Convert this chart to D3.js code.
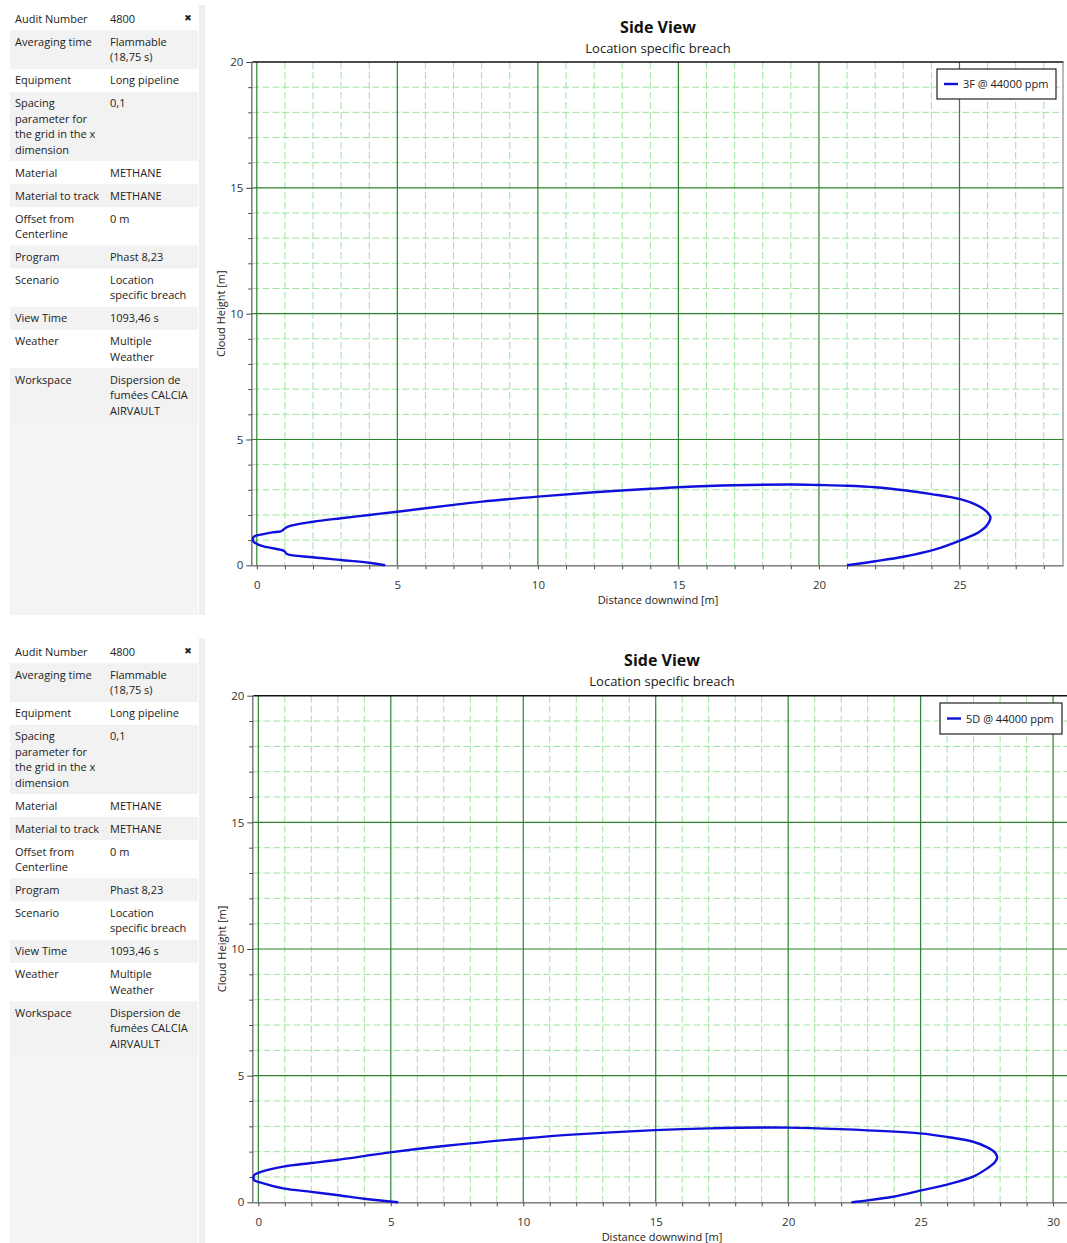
<!DOCTYPE html>
<html>
<head>
<meta charset="utf-8">
<script src="https://cdn.jsdelivr.net/npm/d3@7"></script>
<style>
  html, body { margin: 0; padding: 0; background: #ffffff; }
  svg { display: block; font-family: "Open Sans", "Noto Sans", sans-serif; }
</style>
</head>
<body>
<svg id="chart" width="1067" height="1243"></svg>
<script>
// ---------------- DATA ----------------
const chartTitle = "Side View";
const chartSubtitle = "Location specific breach";
const xAxisLabel = "Distance downwind [m]";
const yAxisLabel = "Cloud Height [m]";

const seriesNames = ["3F @ 44000 ppm", "5D @ 44000 ppm"];

const yTickValues = [0, 5, 10, 15, 20];
const xTickValues3F = [0, 5, 10, 15, 20, 25];
const xTickValues5D = [0, 5, 10, 15, 20, 25, 30];

// Cloud contour, weather 3F (distance [m], height [m])
const cloud3F_x = [4.57, 4.0, 3.0, 2.0, 1.07, 0.98, 0.83, 0.36, 0.05, -0.12, -0.14, -0.1, 0.24, 0.55, 0.85, 0.98, 1.09, 2.0, 3.0, 4.0, 5.0, 7.0, 8.0, 10.0, 12.0, 14.0, 15.0, 17.0, 19.1, 20.0, 21.0, 22.0, 23.1, 24.0, 25.06, 25.6, 25.95, 26.1, 26.0, 25.7, 25.06, 24.08, 23.0, 22.0, 21.0];
const cloud3F_h = [0.0, 0.10, 0.21, 0.32, 0.45, 0.57, 0.62, 0.72, 0.82, 0.95, 1.05, 1.14, 1.24, 1.31, 1.35, 1.44, 1.53, 1.73, 1.87, 2.0, 2.13, 2.4, 2.53, 2.73, 2.9, 3.04, 3.1, 3.18, 3.21, 3.19, 3.16, 3.1, 2.97, 2.83, 2.62, 2.4, 2.15, 1.91, 1.62, 1.32, 1.0, 0.61, 0.34, 0.16, 0.0];

// Cloud contour, weather 5D
const cloud5D_x = [5.28, 4.0, 2.96, 2.0, 0.94, 0.19, -0.16, -0.15, 0.13, 0.94, 2.0, 2.96, 4.97, 7.0, 10.0, 12.0, 14.97, 17.0, 19.98, 21.95, 24.97, 26.0, 26.98, 27.5, 27.8, 27.89, 27.8, 27.5, 26.98, 26.0, 24.97, 23.96, 22.39];
const cloud5D_h = [0.0, 0.14, 0.29, 0.41, 0.55, 0.75, 0.88, 1.08, 1.21, 1.41, 1.55, 1.67, 1.97, 2.22, 2.52, 2.68, 2.85, 2.92, 2.95, 2.89, 2.72, 2.58, 2.39, 2.18, 1.97, 1.78, 1.58, 1.33, 1.01, 0.7, 0.46, 0.22, 0.0];

// Side information table
const infoLabels = [
  ["Audit Number"], ["Averaging time"], ["Equipment"],
  ["Spacing", "parameter for", "the grid in the x", "dimension"],
  ["Material"], ["Material to track"], ["Offset from", "Centerline"],
  ["Program"], ["Scenario"], ["View Time"], ["Weather"], ["Workspace"]
];
const infoValues = [
  ["4800"], ["Flammable", "(18,75 s)"], ["Long pipeline"], ["0,1"],
  ["METHANE"], ["METHANE"], ["0 m"], ["Phast 8,23"],
  ["Location", "specific breach"], ["1093,46 s"], ["Multiple", "Weather"],
  ["Dispersion de", "fumées CALCIA", "AIRVAULT"]
];

// ---------------- LAYOUT ----------------
const panels = [
  { oy: 0, name: seriesNames[0], xs: cloud3F_x, hs: cloud3F_h, xTicks: xTickValues3F,
    xDomain: [-0.16, 28.7], xRange: [252.3, 1063.5], yRange: [565.3, 62],
    titleX: 658, legend: { x: 937, y: 69, w: 119, h: 30 } },
  { oy: 633, name: seriesNames[1], xs: cloud5D_x, hs: cloud5D_h, xTicks: xTickValues5D,
    xDomain: [-0.19, 30.6], xRange: [253.3, 1069], yRange: [1202.3, 695.7],
    titleX: 662, legend: { x: 940, y: 703, w: 122, h: 31 } }
];

const svg = d3.select("#chart");
const fontFam = '"Open Sans", "Noto Sans", sans-serif';
const curveColor = "#1010dc";

panels.forEach((p) => {
  const g = svg.append("g");
  const oy = p.oy;

  // ----- Side panel -----
  g.append("rect").attr("x", 10).attr("y", oy + 7.5).attr("width", 188).attr("height", 607.5).attr("fill", "#f4f4f4");
  g.append("rect").attr("x", 199).attr("y", oy + 5).attr("width", 6).attr("height", 610).attr("fill", "#efefef");
  const lineH = 15.4, pad = 7.6;
  let top = oy + 7.5;
  infoLabels.forEach((lab, i) => {
    const n = Math.max(lab.length, infoValues[i].length);
    const hgt = n * lineH + pad;
    g.append("rect").attr("x", 10).attr("y", top).attr("width", 188).attr("height", hgt)
      .attr("fill", i % 2 === 0 ? "#ffffff" : "#f2f2f2");
    lab.forEach((t, k) => {
      g.append("text").attr("x", 15).attr("y", top + 15.5 + k * lineH).text(t)
        .attr("font-size", 11).attr("fill", "#222");
    });
    infoValues[i].forEach((t, k) => {
      g.append("text").attr("x", 110).attr("y", top + 15.5 + k * lineH).text(t)
        .attr("font-size", 11).attr("fill", "#222");
    });
    top += hgt;
  });
  g.append("text").attr("x", 188).attr("y", oy + 21).attr("text-anchor", "middle")
    .attr("font-size", 9).attr("fill", "#222").attr("font-family", "DejaVu Sans").text("✖");

  // ----- Chart -----
  const x = d3.scaleLinear().domain(p.xDomain).range(p.xRange);
  const y = d3.scaleLinear().domain([0, 20]).range(p.yRange);
  const xMin = Math.ceil(p.xDomain[0]), xMax = Math.floor(p.xDomain[1]);
  const unitX = d3.range(xMin, xMax + 1);
  const unitY = d3.range(0, 21);
  const [L, R] = p.xRange, [B, T] = p.yRange;

  // minor grid
  g.append("g").selectAll("line").data(unitX.filter(v => v % 5 !== 0)).join("line")
    .attr("x1", d => x(d)).attr("x2", d => x(d)).attr("y1", T).attr("y2", B)
    .attr("stroke", "#9fe39f").attr("stroke-width", 1).attr("stroke-dasharray", "7,3");
  g.append("g").selectAll("line").data(unitY.filter(v => v % 5 !== 0)).join("line")
    .attr("x1", L).attr("x2", R).attr("y1", d => y(d)).attr("y2", d => y(d))
    .attr("stroke", "#9fe39f").attr("stroke-width", 1).attr("stroke-dasharray", "7,3");
  // major grid
  g.append("g").selectAll("line").data(p.xTicks).join("line")
    .attr("x1", d => x(d)).attr("x2", d => x(d)).attr("y1", T).attr("y2", B)
    .attr("stroke", "#2c852c").attr("stroke-width", 1.2);
  g.append("g").selectAll("line").data(yTickValues.filter(v => v > 0 && v < 20)).join("line")
    .attr("x1", L).attr("x2", R).attr("y1", d => y(d)).attr("y2", d => y(d))
    .attr("stroke", "#2c852c").attr("stroke-width", 1.2);

  // frame
  g.append("line").attr("x1", L).attr("x2", R).attr("y1", T).attr("y2", T).attr("stroke", "#111").attr("stroke-width", 1.5);
  g.append("line").attr("x1", R - 0.5).attr("x2", R - 0.5).attr("y1", T).attr("y2", B).attr("stroke", "#777").attr("stroke-width", 1);

  // x axis
  const xAxisG = g.append("g").attr("transform", `translate(0,${B})`);
  xAxisG.call(d3.axisBottom(x).tickValues(unitX).tickSize(4).tickFormat(""));
  xAxisG.append("g").call(d3.axisBottom(x).tickValues(p.xTicks).tickSize(0).tickPadding(16).tickFormat(d3.format("d")));
  xAxisG.selectAll(".domain").attr("stroke", "#777").attr("d", `M${L},0.5H${R}`);
  xAxisG.selectAll("line").attr("stroke", "#444");
  xAxisG.selectAll("text").attr("font-size", 11.5).attr("fill", "#333").attr("font-family", fontFam);

  // y axis
  const yAxisG = g.append("g").attr("transform", `translate(${L},0)`);
  yAxisG.call(d3.axisLeft(y).tickValues(unitY.filter(v => v % 5 !== 0)).tickSize(4).tickFormat(""));
  yAxisG.append("g").call(d3.axisLeft(y).tickValues(yTickValues).tickSize(6).tickPadding(3).tickFormat(d3.format("d")));
  yAxisG.selectAll(".domain").attr("stroke", "#777").attr("d", `M-0.5,${T}V${B}`);
  yAxisG.selectAll("line").attr("stroke", "#444");
  yAxisG.selectAll("text").attr("font-size", 11.5).attr("fill", "#333").attr("font-family", fontFam);

  // curve
  const pts = p.xs.map((v, i) => [v, p.hs[i]]);
  const line = d3.line().x(d => x(d[0])).y(d => y(d[1])).curve(d3.curveCatmullRom.alpha(0.5));
  g.append("path").datum(pts).attr("d", line).attr("fill", "none")
    .attr("stroke", curveColor).attr("stroke-width", 2.4).attr("stroke-linejoin", "round");

  // titles
  g.append("text").attr("x", p.titleX).attr("y", oy + 33).attr("text-anchor", "middle")
    .attr("font-size", 16).attr("font-weight", "bold").attr("fill", "#111").text(chartTitle);
  g.append("text").attr("x", p.titleX).attr("y", oy + 53).attr("text-anchor", "middle")
    .attr("font-size", 13).attr("fill", "#222").text(chartSubtitle);
  g.append("text").attr("x", p.titleX).attr("y", B + 39).attr("text-anchor", "middle")
    .attr("font-size", 11).attr("fill", "#222").text(xAxisLabel);
  g.append("text").attr("transform", `translate(${L - 27},${(T + B) / 2}) rotate(-90)`)
    .attr("text-anchor", "middle").attr("font-size", 11).attr("fill", "#222").text(yAxisLabel);

  // legend
  const lg = p.legend;
  g.append("rect").attr("x", lg.x).attr("y", lg.y).attr("width", lg.w).attr("height", lg.h)
    .attr("fill", "#fff").attr("stroke", "#222").attr("stroke-width", 1.2);
  g.append("line").attr("x1", lg.x + 7).attr("x2", lg.x + 21).attr("y1", lg.y + lg.h / 2).attr("y2", lg.y + lg.h / 2)
    .attr("stroke", curveColor).attr("stroke-width", 2.4);
  g.append("text").attr("x", lg.x + 26).attr("y", lg.y + lg.h / 2 + 4).attr("font-size", 11)
    .attr("fill", "#222").text(p.name);
});
</script>
</body>
</html>
